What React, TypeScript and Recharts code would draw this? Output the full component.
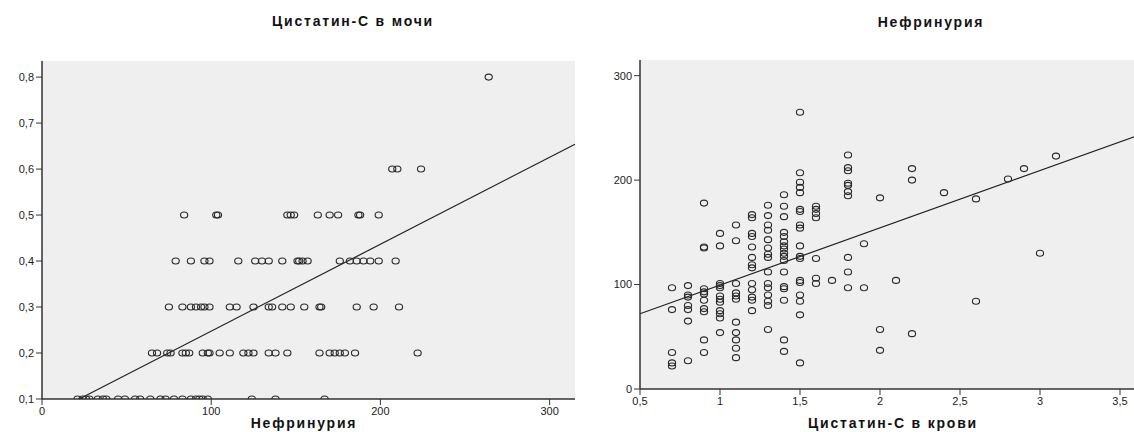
import { ScatterChart, Scatter, XAxis, YAxis, CartesianGrid, ReferenceLine } from "recharts";

// Left panel: Цистатин-С в мочи (y, discrete levels) vs Нефринурия (x)
const urineLevels = [0.1, 0.2, 0.3, 0.4, 0.5, 0.6, 0.8];
const nephAtLevel01 = [21, 24, 26, 28, 33, 36, 38, 45, 49, 55, 58, 64, 70, 73, 78, 83, 88, 91, 93, 95, 98, 124, 138, 167];
const nephAtLevel02 = [65, 68, 74, 76, 83, 85, 87, 95, 98, 99, 105, 111, 119, 122, 125, 134, 138, 145, 164, 170, 173, 176, 179, 185, 222];
const nephAtLevel03 = [75, 83, 88, 91, 94, 96, 99, 111, 115, 125, 134, 136, 142, 147, 155, 164, 165, 186, 196, 211];
const nephAtLevel04 = [79, 88, 96, 99, 116, 126, 130, 134, 142, 151, 152, 154, 157, 176, 182, 186, 190, 194, 199, 209];
const nephAtLevel05 = [84, 103, 104, 145, 147, 149, 163, 170, 175, 187, 188, 199];
const nephAtLevel06 = [207, 210, 224];
const nephAtLevel08 = [264];
const nephByLevel = [nephAtLevel01, nephAtLevel02, nephAtLevel03, nephAtLevel04, nephAtLevel05, nephAtLevel06, nephAtLevel08];
const leftFit = [
  { x: 22, y: 0.1 },
  { x: 315, y: 0.654 },
];
const leftXTicks = [0, 100, 200, 300];
const leftYTicks = [0.1, 0.2, 0.3, 0.4, 0.5, 0.6, 0.7, 0.8];

// Right panel: Нефринурия (y) vs Цистатин-С в крови (x, discrete)
const bloodCys = [0.7, 0.8, 0.9, 1.0, 1.1, 1.2, 1.3, 1.4, 1.5, 1.6, 1.7, 1.8, 1.9, 2.0, 2.1, 2.2, 2.4, 2.6, 2.8, 2.9, 3.0, 3.1];
const nephByBlood = [
  [97, 76, 35, 25, 22],
  [99, 90, 88, 80, 76, 65, 27],
  [178, 136, 135, 96, 93, 91, 85, 77, 74, 47, 35],
  [149, 137, 101, 99, 97, 89, 86, 83, 75, 72, 68, 54],
  [157, 142, 101, 92, 89, 86, 64, 54, 47, 39, 30],
  [167, 164, 149, 146, 136, 126, 119, 116, 101, 95, 88, 85, 75],
  [176, 166, 157, 152, 143, 135, 129, 126, 112, 101, 97, 90, 84, 80, 57],
  [186, 175, 165, 150, 146, 141, 137, 134, 130, 127, 123, 112, 98, 96, 85, 47, 36],
  [265, 207, 198, 193, 188, 172, 170, 157, 154, 137, 127, 125, 104, 102, 90, 84, 71, 25],
  [175, 172, 168, 164, 125, 106, 101],
  [104],
  [224, 212, 209, 197, 195, 189, 185, 126, 112, 97],
  [139, 97],
  [183, 57, 37],
  [104],
  [211, 200, 53],
  [188],
  [182, 84],
  [201],
  [211],
  [130],
  [223],
];
const rightFit = [
  { x: 0.5, y: 72 },
  { x: 3.6, y: 242 },
];
const rightXTicks = [0.5, 1, 1.5, 2, 2.5, 3, 3.5];
const rightYTicks = [0, 100, 200, 300];

const leftPoints = urineLevels.flatMap((lvl, i) => nephByLevel[i].map((n) => ({ x: n, y: lvl })));
const rightPoints = bloodCys.flatMap((c, i) => nephByBlood[i].map((n) => ({ x: c, y: n })));

const FONT = "'Liberation Sans', Arial, sans-serif";
const tickStyle = { fontSize: 11, fill: "#222", fontFamily: FONT };
const axisLineStyle = { stroke: "#333", strokeWidth: 1.5 };
const comma = (v: number) => String(v).replace(".", ",");

function Ring(props: { cx?: number; cy?: number }) {
  const { cx, cy } = props;
  if (cx == null || cy == null) return null;
  return <ellipse cx={cx} cy={cy} rx={3.6} ry={3} fill="none" stroke="#2a2a2a" strokeWidth={1.1} />;
}

export default function App() {
  return (
    <div style={{ position: "fixed", left: 0, top: 0, width: 1134, height: 432, overflow: "hidden", background: "#fff" }}>
      <div style={{ position: "absolute", left: 0, top: 0 }}>
        <ScatterChart width={580} height={432} margin={{ top: 61, right: 5, bottom: 0, left: 0 }}>
          <CartesianGrid fill="#efefef" horizontal={false} vertical={false} />
          <XAxis
            type="number"
            dataKey="x"
            domain={[0, 315]}
            ticks={leftXTicks}
            allowDataOverflow
            height={33}
            tick={tickStyle}
            tickSize={6}
            tickLine={{ stroke: "#333" }}
            axisLine={axisLineStyle}
          />
          <XAxis xAxisId="top" orientation="top" height={0} tick={false} tickLine={false} axisLine={{ stroke: "#555" }} />
          <YAxis
            type="number"
            dataKey="y"
            domain={[0.1, 0.835]}
            ticks={leftYTicks}
            allowDataOverflow
            width={42}
            tick={tickStyle}
            tickSize={6}
            tickMargin={2}
            tickLine={{ stroke: "#333" }}
            tickFormatter={comma}
            axisLine={axisLineStyle}
          />
          <YAxis yAxisId="right" orientation="right" width={0} tick={false} tickLine={false} axisLine={{ stroke: "#555" }} />
          <ReferenceLine segment={leftFit} stroke="#222" strokeWidth={1.2} />
          <Scatter data={leftPoints} shape={<Ring />} isAnimationActive={false} />
        </ScatterChart>
      </div>

      <div style={{ position: "absolute", left: 600, top: 0 }}>
        <ScatterChart width={540} height={432} margin={{ top: 60, right: 0, bottom: 0, left: 0 }}>
          <CartesianGrid fill="#efefef" horizontal={false} vertical={false} />
          <XAxis
            type="number"
            dataKey="x"
            domain={[0.5, 3.625]}
            ticks={rightXTicks}
            allowDataOverflow
            height={43}
            tick={tickStyle}
            tickSize={6}
            tickLine={{ stroke: "#333" }}
            tickFormatter={comma}
            axisLine={axisLineStyle}
          />
          <XAxis xAxisId="top" orientation="top" height={0} tick={false} tickLine={false} axisLine={{ stroke: "#555" }} />
          <YAxis
            type="number"
            dataKey="y"
            domain={[0, 315]}
            ticks={rightYTicks}
            allowDataOverflow
            width={40}
            tick={tickStyle}
            tickSize={6}
            tickMargin={2}
            tickLine={{ stroke: "#333" }}
            axisLine={axisLineStyle}
          />
          <ReferenceLine segment={rightFit} stroke="#222" strokeWidth={1.2} />
          <Scatter data={rightPoints} shape={<Ring />} isAnimationActive={false} />
        </ScatterChart>
      </div>

      {/* titles and axis captions */}
      <svg width={1134} height={432} style={{ position: "absolute", left: 0, top: 0, pointerEvents: "none" }}>
        <g fontFamily={FONT} fontWeight="bold" fontSize={14} fill="#111" textAnchor="middle" letterSpacing={1.8}>
          <text x={353} y={26}>Цистатин-С в мочи</text>
          <text x={931} y={27}>Нефринурия</text>
          <text x={304} y={428}>Нефринурия</text>
          <text x={893} y={428}>Цистатин-С в крови</text>
        </g>
      </svg>
    </div>
  );
}
